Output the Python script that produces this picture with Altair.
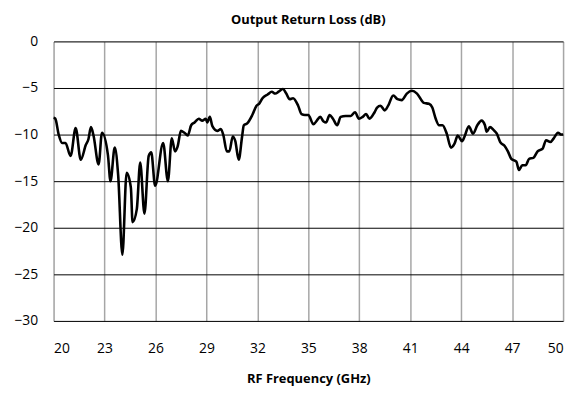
import altair as alt
import pandas as pd

freq = [20.0, 20.1, 20.3, 20.5, 20.7, 21.0, 21.3, 21.6, 21.9, 22.05, 22.2, 22.35, 22.65, 22.85,
        23.2, 23.35, 23.6, 23.8, 24.05, 24.3, 24.55, 24.65, 24.9, 25.1, 25.35, 25.6, 25.75, 25.98,
        26.45, 26.73, 26.96, 27.15, 27.3, 27.5, 27.7, 27.9, 28.1, 28.3, 28.55, 28.75, 28.96, 29.05,
        29.2, 29.35, 29.64, 29.85, 30.0, 30.2, 30.35, 30.55, 30.7, 30.9, 31.1, 31.2, 31.4, 31.7,
        31.95, 32.1, 32.3, 32.6, 32.85, 33.05, 33.25, 33.5, 33.7, 33.9, 34.1, 34.4, 34.6, 34.8,
        35.0, 35.3, 35.5, 35.7, 35.9, 36.05, 36.25, 36.45, 36.7, 36.9, 37.2, 37.5, 37.75, 37.98,
        38.2, 38.4, 38.6, 38.9, 39.05, 39.25, 39.5, 39.7, 40.0, 40.25, 40.5, 40.8, 41.1, 41.4,
        41.8, 42.1, 42.3, 42.5, 42.7, 42.9, 43.15, 43.4, 43.6, 43.8, 44.05, 44.2, 44.45, 44.7,
        44.95, 45.2, 45.4, 45.5, 45.7, 45.9, 46.1, 46.3, 46.55, 46.75, 46.95, 47.25, 47.4, 47.6,
        47.8, 48.0, 48.25, 48.5, 48.8, 49.0, 49.25, 49.45, 49.7, 49.9, 50.0]
return_loss = [-8.2, -8.3, -10.0, -10.9, -10.9, -12.3, -9.3, -12.7, -11.1, -10.5, -9.2, -10.1, -13.2, -9.8,
               -12.2, -15.0, -11.4, -14.3, -22.9, -14.1, -15.7, -19.4, -18.0, -13.0, -18.5, -12.3, -11.9, -15.5,
               -10.9, -15.0, -10.4, -11.8, -11.3, -9.6, -9.8, -10.1, -9.0, -8.7, -8.3, -8.5, -8.3, -8.7,
               -8.1, -9.1, -9.6, -9.4, -10.1, -11.8, -11.8, -10.2, -10.7, -12.7, -10.2, -9.0, -8.8, -7.9,
               -6.9, -6.7, -6.1, -5.7, -5.4, -5.6, -5.4, -5.1, -5.6, -6.2, -6.1, -6.9, -7.8, -7.9,
               -7.9, -8.9, -8.5, -8.1, -8.6, -8.7, -7.9, -8.3, -9.0, -8.1, -8.0, -8.0, -7.6, -8.3,
               -8.1, -7.8, -8.3, -7.6, -7.1, -6.9, -7.4, -6.9, -5.8, -6.2, -6.3, -5.6, -5.3, -5.6,
               -6.6, -6.7, -7.1, -8.3, -9.0, -9.0, -9.9, -11.4, -11.0, -10.1, -10.7, -10.2, -9.1, -9.9,
               -9.0, -8.5, -9.0, -9.7, -9.2, -9.5, -9.9, -10.8, -11.2, -11.8, -12.6, -12.9, -13.8, -13.3,
               -13.3, -12.6, -12.5, -11.8, -11.5, -10.6, -10.8, -10.4, -9.8, -10.0, -10.0]

x_ticks = [20, 23, 26, 29, 32, 35, 38, 41, 44, 47, 50]
y_ticks = [-30, -25, -20, -15, -10, -5, 0]

df = pd.DataFrame({"freq": freq, "rl": return_loss})

FONT = "Open Sans"

chart = alt.Chart(df).mark_line(
    color="black", strokeWidth=2.6, interpolate="monotone"
).encode(
    x=alt.X("freq:Q", title="RF Frequency (GHz)",
            scale=alt.Scale(domain=[20, 50], nice=False, zero=False),
            axis=alt.Axis(values=x_ticks, grid=True, gridColor="#a6a6a6", gridWidth=1.5,
                          domain=False, ticks=False, labelPadding=21, labelFontSize=14,
                          labelColor="black", labelFont=FONT, titleFont=FONT, titleFontSize=13,
                          titleFontWeight="bold", titleColor="black", titlePadding=17)),
    y=alt.Y("rl:Q", title=None,
            scale=alt.Scale(domain=[-30, 0], nice=False, zero=False),
            axis=alt.Axis(values=y_ticks, grid=True, gridColor="black", gridWidth=1,
                          domain=False, ticks=False, labelPadding=16, labelFontSize=14,
                          labelColor="black", labelFont=FONT)),
).properties(
    width=514, height=282,
    title=alt.TitleParams("Output Return Loss (dB)", font=FONT, fontSize=13, fontWeight="bold",
                          color="black", anchor="middle", offset=8),
    autosize=alt.AutoSizeParams(type="none"),
    padding={"left": 46, "top": 32, "right": 8, "bottom": 70},
).configure_view(
    stroke="black", strokeWidth=2
).configure(background="white")

chart.save("out.html", embed_options={"renderer": "svg", "actions": False})
